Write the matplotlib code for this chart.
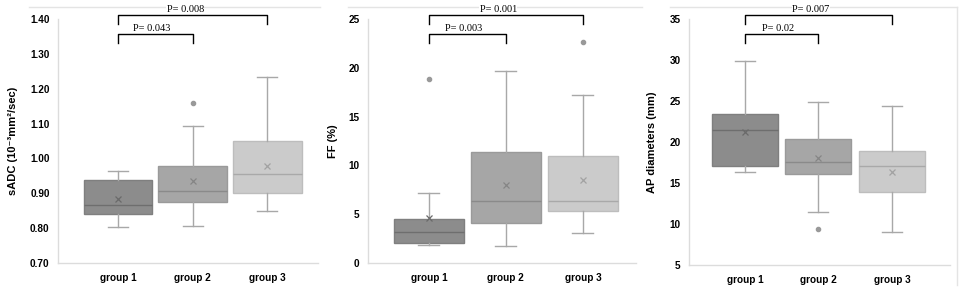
import matplotlib
matplotlib.use("Agg")
import matplotlib.pyplot as plt
from matplotlib.lines import Line2D

plt.rcParams['font.family'] = ['Liberation Sans', 'DejaVu Sans']

groups = ["group 1", "group 2", "group 3"]

# Panel 1: sADC
sadc_whislo = [0.802, 0.805, 0.849]
sadc_q1 = [0.841, 0.875, 0.901]
sadc_med = [0.866, 0.907, 0.954]
sadc_q3 = [0.939, 0.978, 1.049]
sadc_whishi = [0.963, 1.092, 1.235]
sadc_mean = [0.885, 0.934, 0.978]
sadc_fliers = [[], [1.160], []]
sadc_ticks = [0.70, 0.80, 0.90, 1.00, 1.10, 1.20, 1.30, 1.40]

# Panel 2: FF
ff_whislo = [1.81, 1.71, 3.07]
ff_q1 = [2.08, 4.13, 5.36]
ff_med = [3.18, 6.35, 6.35]
ff_q3 = [4.51, 11.37, 10.93]
ff_whishi = [7.17, 19.67, 17.21]
ff_mean = [4.6, 8.03, 8.5]
ff_fliers = [[18.9], [], [22.68]]
ff_ticks = [0, 5, 10, 15, 20, 25]

# Panel 3: AP diameters
ap_whislo = [16.35, 11.42, 8.98]
ap_q1 = [17.12, 16.07, 13.87]
ap_med = [21.48, 17.61, 17.04]
ap_q3 = [23.44, 20.42, 18.96]
ap_whishi = [29.91, 24.82, 24.33]
ap_mean = [21.16, 18.02, 16.35]
ap_fliers = [[], [9.35], []]
ap_ticks = [5, 10, 15, 20, 25, 30, 35]

p_labels = [["P= 0.043", "P= 0.008"], ["P= 0.003", "P= 0.001"], ["P= 0.02", "P= 0.007"]]

W, H = 960, 289
fig = plt.figure(figsize=(W / 100, H / 100), dpi=100)

fills = ['#8c8c8c', '#a6a6a6', '#cbcbcb']
edges = ['#7f7f7f', '#9a9a9a', '#bdbdbd']
medc = ['#6e6e6e', '#8a8a8a', '#a9a9a9']
meanc = ['#6a6a6a', '#858585', '#a2a2a2']
whc = '#a8a8a8'


def px_axes(x0, y0, x1, y1):
    return fig.add_axes([x0 / W, 1 - y1 / H, (x1 - x0) / W, (y1 - y0) / H])


panels = [
    dict(box=(58, 19, 318, 263), xlim=(0.195, 3.68), width=0.92,
         data=(sadc_whislo, sadc_q1, sadc_med, sadc_q3, sadc_whishi, sadc_mean, sadc_fliers),
         ticks=sadc_ticks, fmt="{:.2f}", ylabel="sADC (10⁻³mm²/sec)", ylab_x=18),
    dict(box=(368, 19, 636, 263), xlim=(0.21, 3.69), width=0.91,
         data=(ff_whislo, ff_q1, ff_med, ff_q3, ff_whishi, ff_mean, ff_fliers),
         ticks=ff_ticks, fmt="{:d}", ylabel="FF (%)", ylab_x=338),
    dict(box=(689, 19, 950, 265), xlim=(0.24, 3.79), width=0.9,
         data=(ap_whislo, ap_q1, ap_med, ap_q3, ap_whishi, ap_mean, ap_fliers),
         ticks=ap_ticks, fmt="{:d}", ylabel="AP diameters (mm)", ylab_x=657),
]

# faint panel frames (drawn beneath the axes)
frame_c = '#e4e4e4'
for (xa, xb) in [(29, 320), (348, 642), (670, 957)]:
    fig.add_artist(Line2D([xa / W, xb / W], [1 - 7 / H, 1 - 7 / H], color=frame_c,
                          linewidth=1.0, zorder=-5))
fig.add_artist(Line2D([957 / W, 957 / W], [1 - 7 / H, 1 - 285 / H], color=frame_c,
                      linewidth=1.0, zorder=-5))

for pi, p in enumerate(panels):
    ax = px_axes(*p['box'])
    wl, q1, md, q3, wh, mn, fl = p['data']
    for i in range(3):
        st = dict(whislo=wl[i], q1=q1[i], med=md[i], q3=q3[i], whishi=wh[i],
                  mean=mn[i], fliers=fl[i], label=groups[i])
        ax.bxp([st], positions=[i + 1], widths=p['width'], capwidths=0.27,
               patch_artist=True, showmeans=True,
               boxprops=dict(facecolor=fills[i], edgecolor=edges[i], linewidth=1.0),
               medianprops=dict(color=medc[i], linewidth=1.0),
               whiskerprops=dict(color=whc, linewidth=1.0),
               capprops=dict(color=whc, linewidth=1.0),
               meanprops=dict(marker='x', markeredgecolor=meanc[i], markersize=5,
                              markeredgewidth=0.9),
               flierprops=dict(marker='o', markerfacecolor='#999999',
                               markeredgecolor='#999999', markersize=3))
    ax.set_xlim(*p['xlim'])
    ax.set_ylim(p['ticks'][0], p['ticks'][-1])
    ax.set_yticks(p['ticks'])
    ax.set_yticklabels([p['fmt'].format(t) for t in p['ticks']], fontsize=7.2, fontweight='bold')
    ax.set_xticks([1, 2, 3])
    ax.set_xticklabels(groups, fontsize=7.2, fontweight='bold')
    ax.tick_params(axis='both', length=0)
    ax.tick_params(axis='y', pad=6)
    ax.tick_params(axis='x', pad=7)
    for s in ['top', 'right']:
        ax.spines[s].set_visible(False)
    for s in ['left', 'bottom']:
        ax.spines[s].set_color('#dcdcdc')
        ax.spines[s].set_linewidth(1.0)
    ax.set_facecolor('none')
    x0, y0, x1, y1 = p['box']
    ax.set_ylabel(p['ylabel'], fontsize=8, fontweight='bold')
    ax.yaxis.set_label_coords((p['ylab_x'] - x0) / (x1 - x0), 0.5)
    tr = ax.get_xaxis_transform()
    h = y1 - y0

    def fy(py):
        return (y1 - py) / h
    for (xa, xb, top, drop, lab) in [(1, 2, 34, 43, p_labels[pi][0]),
                                     (1, 3, 15, 24, p_labels[pi][1])]:
        ax.plot([xa, xa, xb, xb], [fy(drop), fy(top), fy(top), fy(drop)], color='black',
                linewidth=1.0, transform=tr, clip_on=False)
        ax.text((xa + xb) / 2 - 0.05 * (xb - xa), fy(top) + 0.004, lab, transform=tr,
                ha='center', va='bottom', fontsize=7.5, family='Liberation Serif',
                bbox=dict(facecolor='white', edgecolor='none', pad=0.3))

fig.savefig("out.png", dpi=100)
